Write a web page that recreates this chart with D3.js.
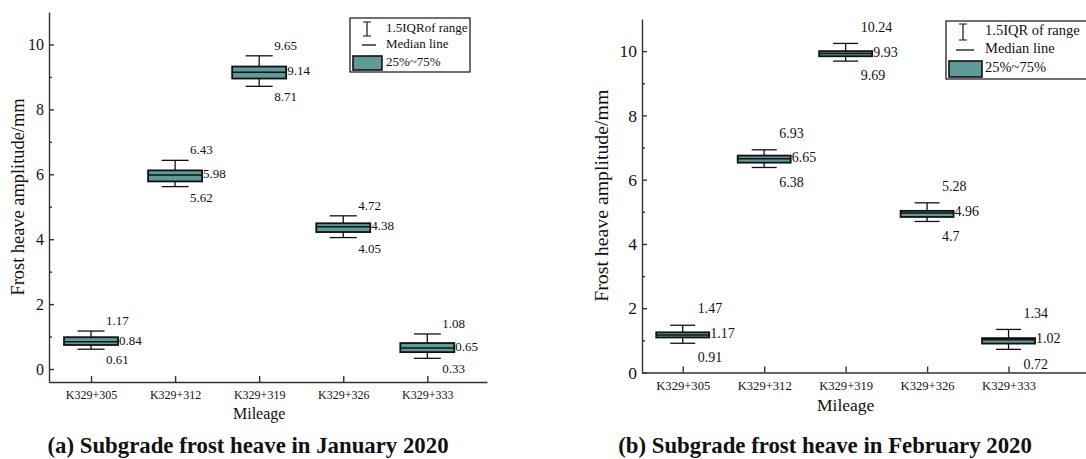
<!DOCTYPE html>
<html>
<head>
<meta charset="utf-8">
<script src="https://cdn.jsdelivr.net/npm/d3@7"></script>
<style>
  body { margin: 0; background: #fff; }
  svg { display: block; font-family: "Liberation Serif", "Times New Roman", serif; }
</style>
</head>
<body>
<svg id="chart" width="1086" height="459"></svg>
<script>
// mileage stations
var categories = ["K329+305", "K329+312", "K329+319", "K329+326", "K329+333"];

// January 2020
var janMin    = [0.61, 5.62, 8.71, 4.05, 0.33];
var janQ1     = [0.74, 5.78, 8.95, 4.22, 0.52];
var janMedian = [0.84, 5.98, 9.14, 4.38, 0.65];
var janQ3     = [0.98, 6.12, 9.32, 4.49, 0.80];
var janMax    = [1.17, 6.43, 9.65, 4.72, 1.08];

// February 2020
var febMin    = [0.91, 6.38, 9.69, 4.7, 0.72];
var febQ1     = [1.09, 6.53, 9.84, 4.84, 0.90];
var febMedian = [1.17, 6.65, 9.93, 4.96, 1.02];
var febQ3     = [1.25, 6.75, 10.0, 5.03, 1.07];
var febMax    = [1.47, 6.93, 10.24, 5.28, 1.34];

var majorTicks = [0, 2, 4, 6, 8, 10];
var minorTicks = [1, 3, 5, 7, 9];

var yTitle = "Frost heave amplitude/mm";
var xTitle = "Mileage";
var legendLabels = [["1.5IQRof range", "Median line", "25%~75%"],
                    ["1.5IQR of range", "Median line", "25%~75%"]];
var titles = ["(a) Subgrade frost heave in January 2020",
              "(b) Subgrade frost heave in February 2020"];

var fill = "#5f9a99", ink = "#111", axisInk = "#333";

function buildRows(mins, q1s, meds, q3s, maxs) {
	return categories.map(function(c, i) {
		return { cat: c, i: i + 1, min: mins[i], q1: q1s[i], med: meds[i], q3: q3s[i], max: maxs[i] };
	});
}

var panels = [
	{ rows: buildRows(janMin, janQ1, janMedian, janQ3, janMax),
	  x0: 49, x1: 487, xDom: [0.5, 5.71], yTop: 12, yBot: 382, yDom: [-0.4, 11],
	  boxHalf: 27, capHalf: 13.5, lblFont: 13, above: 9, below: 12,
	  tickFont: 16, catFont: 12, catY: 14, yTitleX: 20, yTitleFont: 18.4,
	  xTitleY: 415, xTitleFont: 16, titleX: 248, title: titles[0], leg: legendLabels[0],
	  legend: { x: 350, y: 18, w: 120, h: 54, font: 13, sym: 367, tx: 386, r1: 29, r2: 45, r3: 63, bw: 29, bh: 14 } },
	{ rows: buildRows(febMin, febQ1, febMedian, febQ3, febMax),
	  x0: 642, x1: 1090, xDom: [0.5, 6.0], yTop: 19, yBot: 372.5, yDom: [0, 11],
	  boxHalf: 26.5, capHalf: 12.5, lblFont: 14, above: 15, below: 16,
	  tickFont: 17.5, catFont: 12.6, catY: 14.5, yTitleX: 603, yTitleFont: 19.8,
	  xTitleY: 407, xTitleFont: 17.5, titleX: 825, title: titles[1], leg: legendLabels[1],
	  legend: { x: 946, y: 21, w: 160, h: 58, font: 14.5, sym: 963, tx: 985, r1: 32, r2: 50, r3: 69, bw: 33, bh: 16 } }
];

var svg = d3.select("#chart");

panels.forEach(function(p) {
	var x = d3.scaleLinear().domain(p.xDom).range([p.x0, p.x1]);
	var y = d3.scaleLinear().domain(p.yDom).range([p.yBot, p.yTop]);
	var g = svg.append("g");

	// y axis, ticks pointing inward
	var yAxis = g.append("g").attr("transform", "translate(" + p.x0 + ",0)")
		.call(d3.axisLeft(y).tickValues(majorTicks).tickSize(-5).tickSizeOuter(0).tickPadding(5));
	yAxis.append("g").call(d3.axisLeft(y).tickValues(minorTicks).tickSize(-3).tickFormat(""))
		.select(".domain").remove();
	yAxis.selectAll("text").attr("font-size", p.tickFont).attr("fill", ink).style("font-family", "Liberation Serif");

	// x axis
	var xAxis = g.append("g").attr("transform", "translate(0," + p.yBot + ")")
		.call(d3.axisBottom(x).tickValues(d3.range(1, categories.length + 1)).tickSize(-6).tickSizeOuter(0)
			.tickFormat(function(d) { return categories[d - 1]; }));
	xAxis.selectAll("text").attr("dy", null).attr("y", p.catY).attr("dominant-baseline", "middle")
		.attr("font-size", p.catFont).attr("fill", ink).style("font-family", "Liberation Serif");

	g.selectAll(".domain, .tick line").attr("stroke", axisInk).attr("stroke-width", 1.4);

	// boxes
	var box = g.append("g").selectAll("g").data(p.rows).enter().append("g");
	box.append("line").attr("x1", function(d) { return x(d.i); }).attr("x2", function(d) { return x(d.i); })
		.attr("y1", function(d) { return y(d.max); }).attr("y2", function(d) { return y(d.q3); })
		.attr("stroke", ink).attr("stroke-width", 1.3);
	box.append("line").attr("x1", function(d) { return x(d.i); }).attr("x2", function(d) { return x(d.i); })
		.attr("y1", function(d) { return y(d.q1); }).attr("y2", function(d) { return y(d.min); })
		.attr("stroke", ink).attr("stroke-width", 1.3);
	["max", "min"].forEach(function(k) {
		box.append("line")
			.attr("x1", function(d) { return x(d.i) - p.capHalf; }).attr("x2", function(d) { return x(d.i) + p.capHalf; })
			.attr("y1", function(d) { return y(d[k]); }).attr("y2", function(d) { return y(d[k]); })
			.attr("stroke", ink).attr("stroke-width", 1.3);
	});
	box.append("rect")
		.attr("x", function(d) { return x(d.i) - p.boxHalf; }).attr("width", p.boxHalf * 2)
		.attr("y", function(d) { return y(d.q3); }).attr("height", function(d) { return y(d.q1) - y(d.q3); })
		.attr("fill", fill).attr("stroke", ink).attr("stroke-width", 1.8);
	box.append("line")
		.attr("x1", function(d) { return x(d.i) - p.boxHalf; }).attr("x2", function(d) { return x(d.i) + p.boxHalf; })
		.attr("y1", function(d) { return y(d.med); }).attr("y2", function(d) { return y(d.med); })
		.attr("stroke", ink).attr("stroke-width", 1.5);

	// value labels
	box.append("text").attr("x", function(d) { return x(d.i) + 15; })
		.attr("y", function(d) { return y(d.max) - p.above; }).text(function(d) { return d.max; });
	box.append("text").attr("x", function(d) { return x(d.i) + p.boxHalf + 1; })
		.attr("y", function(d) { return y(d.med); }).text(function(d) { return d.med; });
	box.append("text").attr("x", function(d) { return x(d.i) + 15; })
		.attr("y", function(d) { return y(d.min) + p.below; }).text(function(d) { return d.min; });
	box.selectAll("text").attr("font-size", p.lblFont).attr("fill", ink).attr("dominant-baseline", "middle");

	// axis titles
	g.append("text").attr("transform", "translate(" + p.yTitleX + "," + (p.yTop + p.yBot) / 2 + ") rotate(-90)")
		.attr("text-anchor", "middle").attr("dominant-baseline", "middle")
		.attr("font-size", p.yTitleFont).attr("fill", ink).text(yTitle);
	g.append("text").attr("x", x(3)).attr("y", p.xTitleY)
		.attr("text-anchor", "middle").attr("dominant-baseline", "middle")
		.attr("font-size", p.xTitleFont).attr("fill", ink).text(xTitle);
	g.append("text").attr("x", p.titleX).attr("y", 448)
		.attr("text-anchor", "middle").attr("dominant-baseline", "middle")
		.attr("font-size", 22.8).attr("font-weight", "bold").attr("fill", ink).text(p.title);

	// legend
	var L = p.legend, lg = g.append("g");
	lg.append("rect").attr("x", L.x).attr("y", L.y).attr("width", L.w).attr("height", L.h)
		.attr("fill", "#fff").attr("stroke", ink).attr("stroke-width", 1.2);
	var s = L.bh / 2;
	lg.append("path").attr("d", "M" + (L.sym - 4) + "," + (L.r1 - s) + "H" + (L.sym + 4) +
			"M" + L.sym + "," + (L.r1 - s) + "V" + (L.r1 + s) + "M" + (L.sym - 4) + "," + (L.r1 + s) + "H" + (L.sym + 4))
		.attr("stroke", ink).attr("stroke-width", 1.2).attr("fill", "none");
	lg.append("line").attr("x1", L.sym - 5 - (L.bw - 29) / 2).attr("x2", L.sym + 9 + (L.bw - 29) / 2)
		.attr("y1", L.r2).attr("y2", L.r2).attr("stroke", ink).attr("stroke-width", 1.3);
	lg.append("rect").attr("x", L.x + 3).attr("y", L.r3 - L.bh / 2).attr("width", L.bw).attr("height", L.bh)
		.attr("fill", fill).attr("stroke", ink).attr("stroke-width", 1.6);
	[L.r1, L.r2, L.r3].forEach(function(ry, j) {
		lg.append("text").attr("x", L.tx).attr("y", ry).attr("dominant-baseline", "middle")
			.attr("font-size", L.font).attr("fill", ink).text(p.leg[j]);
	});
});
</script>
</body>
</html>
